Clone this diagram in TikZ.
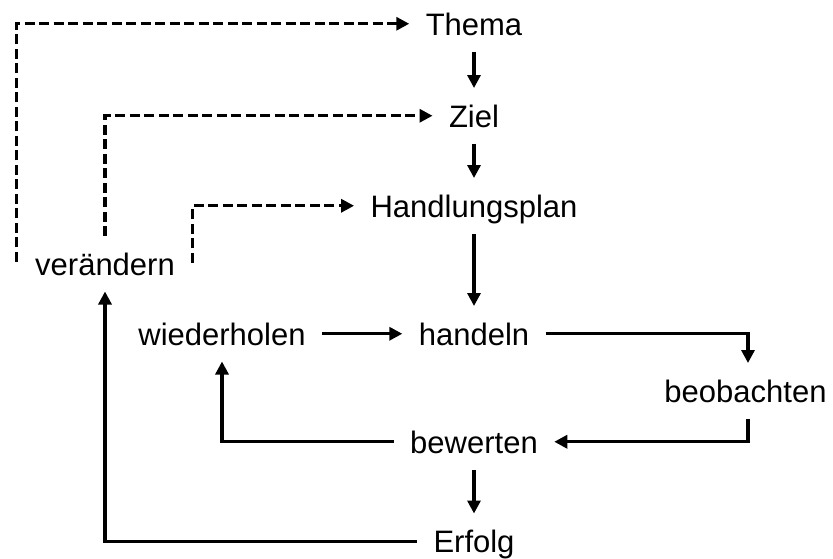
\documentclass[tikz,border=0pt]{standalone}
\usepackage{fontspec}
\setmainfont{Liberation Sans}
\usetikzlibrary{arrows.meta}
\begin{document}
\begin{tikzpicture}[x=1pt,y=-1pt,
  lbl/.style={font=\fontsize{31}{36}\selectfont, inner sep=0pt, outer sep=16.5pt,
              text height=22.5pt, text depth=0pt, anchor=base},
  flow/.style={line width=3.2pt, -{Triangle[length=13pt,width=13pt]}},
  back/.style={flow, dash pattern=on 10pt off 4.5pt}]
\useasboundingbox (0,0) rectangle (833,558);

% steps of the cycle
\node[lbl] (thema)  at (474,35)  {Thema};
\node[lbl] (ziel)   at (474,127) {Ziel};
\node[lbl] (plan)   at (474,217) {Handlungsplan};
\node[lbl] (handeln) at (474,345) {handeln};
\node[lbl] (wieder) at (222,345) {wiederholen};
\node[lbl] (beob)   at (745.5,402) {beobachten};
\node[lbl] (bewert) at (474,453) {bewerten};
\node[lbl] (erfolg) at (474,552.5) {Erfolg};
\node[lbl] (veraend) at (105,275) {verändern};

% main flow
\draw[flow] (thema) -- (ziel);
\draw[flow] (ziel) -- (plan);
\draw[flow] (plan) -- (handeln);
\draw[flow] (wieder) -- (handeln);
\draw[flow] (handeln.east) -| ([xshift=2.5pt]beob.north);
\draw[flow] ([xshift=2.5pt]beob.south) |- (bewert.east);
\draw[flow] (bewert.west) -| (wieder.south);
\draw[flow] (bewert) -- (erfolg);
\draw[flow] (erfolg.west) -| (veraend.south);

% feedback paths from "verändern"
\draw[back] ([xshift=-2.5pt,yshift=2pt]veraend.west) |- (thema.west);
\draw[back] (veraend.north) |- (ziel.west);
\draw[back] ([xshift=1.5pt,yshift=1pt]veraend.east) |- (plan.west);
\end{tikzpicture}
\end{document}
